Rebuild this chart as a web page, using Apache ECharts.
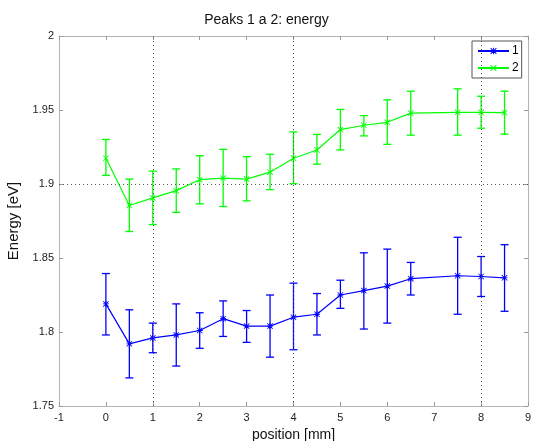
<!DOCTYPE html>
<html>
<head>
<meta charset="utf-8">
<script src="https://cdn.jsdelivr.net/npm/echarts@6/dist/echarts.min.js"></script>
<style>html,body{margin:0;padding:0;background:#fff}#c{width:533px;height:441px}</style>
</head>
<body>
<div id="c"></div>
<script>
var positions = [0,0.5,1,1.5,2,2.5,3,3.5,4,4.5,5,5.5,6,6.5,7.5,8,8.5];
var peak1 = [1.819,1.792,1.796,1.798,1.801,1.809,1.804,1.804,1.810,1.812,1.825,1.828,1.831,1.836,1.838,1.8375,1.8366];
var peak1Low = [1.798,1.769,1.786,1.777,1.789,1.797,1.793,1.783,1.788,1.798,1.816,1.802,1.806,1.825,1.812,1.824,1.814];
var peak1High = [1.8395,1.815,1.806,1.819,1.813,1.821,1.8145,1.825,1.833,1.826,1.835,1.8535,1.856,1.847,1.864,1.851,1.859];
var peak2 = [1.9174,1.8855,1.8906,1.8955,1.9029,1.904,1.9033,1.908,1.9174,1.923,1.9368,1.9397,1.9417,1.9479,1.9484,1.9484,1.9482];
var peak2Low = [1.9058,1.8679,1.8726,1.8808,1.8866,1.8848,1.8886,1.8962,1.9002,1.9134,1.923,1.9325,1.9268,1.933,1.933,1.9377,1.9337];
var peak2High = [1.9301,1.9033,1.9087,1.9102,1.9191,1.9234,1.9185,1.9201,1.9352,1.9335,1.9504,1.9462,1.9569,1.9627,1.9643,1.9593,1.9627];
var gridX = [1,4,8];
var gridY = [1.9];
var seriesNames = ['1','2'];
var colors = ['#0000ff','#00ff00'];

var FONT = 'Liberation Sans, Arial, sans-serif';
function pairs(xs, ys){ return xs.map(function(x,i){return [x, ys[i]];}); }
function errData(xs, lo, hi){ return xs.map(function(x,i){return [x, lo[i], hi[i]];}); }
function errSeries(data, color){
  return {
    type:'custom', data:data, silent:true, z:2,
    encode:{x:0,y:[1,2]},
    renderItem:function(params, api){
      var x = api.value(0);
      var p1 = api.coord([x, api.value(1)]);
      var p2 = api.coord([x, api.value(2)]);
      var hw = 4;
      var st = {stroke:color, lineWidth:1.3};
      return {type:'group', children:[
        {type:'line', shape:{x1:p1[0],y1:p1[1],x2:p2[0],y2:p2[1]}, style:st},
        {type:'line', shape:{x1:p1[0]-hw,y1:p1[1],x2:p1[0]+hw,y2:p1[1]}, style:st},
        {type:'line', shape:{x1:p2[0]-hw,y1:p2[1],x2:p2[0]+hw,y2:p2[1]}, style:st}
      ]};
    }
  };
}
var xMark = 'path://M0,1L1,0L5,4L9,0L10,1L6,5L10,9L9,10L5,6L1,10L0,9L4,5Z';
var starMark = 'path://M0,1L1,0L5,4L9,0L10,1L6,5L10,9L9,10L5,6L1,10L0,9L4,5Z M4.3,0L5.7,0L5.7,10L4.3,10Z M0,4.3L10,4.3L10,5.7L0,5.7Z';

var chart = echarts.init(document.getElementById('c'), null, {renderer:'canvas'});
function axisCommon(){
  return {
    axisLine:{show:true, onZero:false, lineStyle:{color:'#b4b4b4', width:1}},
    axisTick:{show:true, inside:true, length:4, lineStyle:{color:'#999'}},
    splitLine:{show:false}
  };
}
chart.setOption({
  animation:false,
  backgroundColor:'#fff',
  textStyle:{fontFamily:FONT},
  title:{text:'Peaks 1 a 2: energy', left:'center', top:13, padding:0,
    textStyle:{fontSize:14, fontWeight:'normal', color:'#111', fontFamily:FONT}},
  legend:{
    data:seriesNames, orient:'vertical', left:472, top:41,
    padding:[4,3,4,5], itemGap:5, itemWidth:31, itemHeight:8,
    borderColor:'#555', borderWidth:1, backgroundColor:'#fff',
    textStyle:{fontSize:12, color:'#000', fontFamily:FONT, padding:[0,0,0,-2]}
  },
  grid:{left:59, right:5, top:36, bottom:35, show:false, containLabel:false, outerBoundsMode:'none'},
  xAxis:[
    Object.assign({type:'value', min:-1, max:9, interval:1, position:'bottom',
      name:'position [mm]', nameLocation:'middle', nameGap:15,
      nameTextStyle:{fontSize:14, color:'#111', fontFamily:FONT, lineHeight:15},
      axisLabel:{fontSize:11, color:'#222', margin:6, fontFamily:FONT}}, axisCommon()),
    Object.assign({type:'value', min:-1, max:9, interval:1, position:'top',
      axisLabel:{show:false}}, axisCommon())
  ],
  yAxis:[
    Object.assign({type:'value', min:1.75, max:2, interval:0.05, position:'left',
      name:'Energy [eV]', nameLocation:'middle', nameGap:31,
      nameTextStyle:{fontSize:15, color:'#111', fontFamily:FONT},
      axisLabel:{fontSize:11, color:'#222', margin:5, fontFamily:FONT,
        formatter:function(v){return String(parseFloat(v.toFixed(2)));}}}, axisCommon()),
    Object.assign({type:'value', min:1.75, max:2, interval:0.05, position:'right',
      axisLabel:{show:false}}, axisCommon())
  ],
  series:[
    {name:'grid', type:'line', data:[], silent:true,
      markLine:{silent:true, symbol:'none', label:{show:false},
        lineStyle:{type:[1,3], color:'#555', width:1},
        data: gridX.map(function(v){return {xAxis:v};}).concat(gridY.map(function(v){return {yAxis:v};}))}},
    errSeries(errData(positions, peak1Low, peak1High), colors[0]),
    errSeries(errData(positions, peak2Low, peak2High), colors[1]),
    {name:seriesNames[0], type:'line', data:pairs(positions, peak1), z:3,
      symbol:starMark, symbolSize:6, showSymbol:true,
      lineStyle:{color:colors[0], width:1.2}, itemStyle:{color:colors[0]}},
    {name:seriesNames[1], type:'line', data:pairs(positions, peak2), z:3,
      symbol:xMark, symbolSize:6, showSymbol:true,
      lineStyle:{color:colors[1], width:1.2}, itemStyle:{color:colors[1]}}
  ]
});
</script>
</body>
</html>
